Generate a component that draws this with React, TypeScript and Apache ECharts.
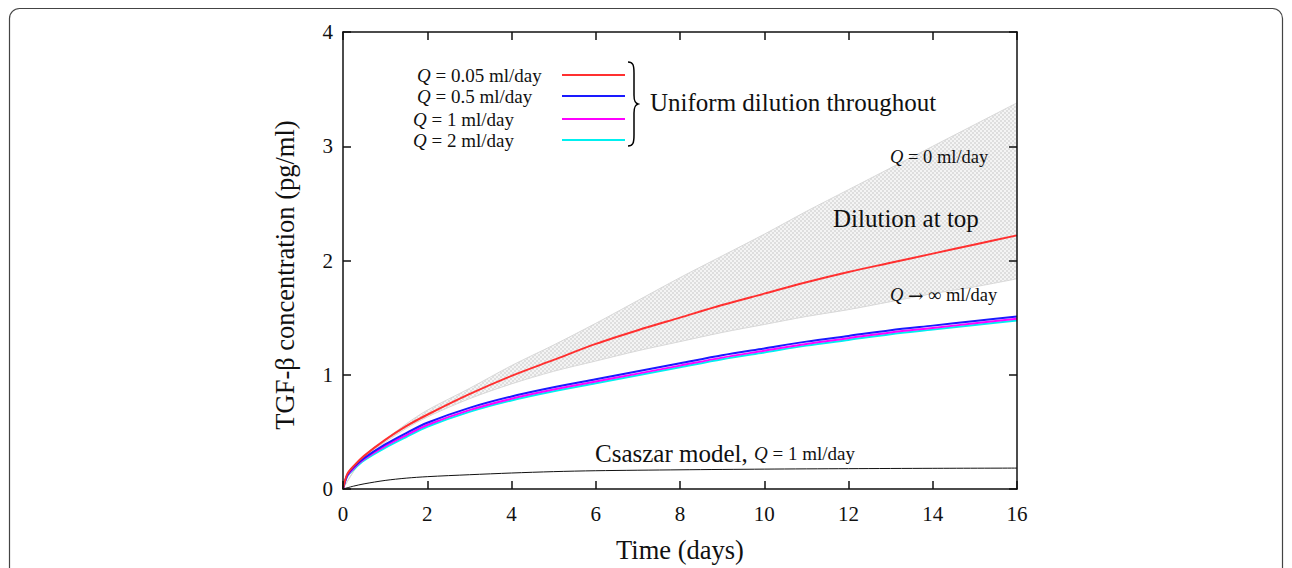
import React, { useEffect, useRef } from "react";
import * as echarts from "echarts";

// Time grid (days) for the uniform-dilution curves
const T = [0, 0.1, 0.25, 0.5, 1, 1.5, 2, 3, 4, 5, 6, 7, 8, 9, 10, 11, 12, 13, 14, 15, 16];
const q005 = [0, 0.13, 0.2, 0.29, 0.43, 0.55, 0.65, 0.83, 0.99, 1.13, 1.27, 1.39, 1.5, 1.61, 1.71, 1.81, 1.9, 1.98, 2.06, 2.14, 2.22];
const q05 = [0, 0.12, 0.19, 0.27, 0.39, 0.49, 0.58, 0.71, 0.81, 0.89, 0.96, 1.03, 1.1, 1.17, 1.23, 1.29, 1.34, 1.39, 1.43, 1.47, 1.51];
const q1 = [0, 0.115, 0.18, 0.26, 0.375, 0.47, 0.56, 0.69, 0.79, 0.87, 0.94, 1.01, 1.08, 1.15, 1.21, 1.27, 1.32, 1.37, 1.41, 1.45, 1.49];
const q2 = [0, 0.11, 0.17, 0.25, 0.36, 0.455, 0.545, 0.675, 0.775, 0.855, 0.925, 0.995, 1.065, 1.135, 1.195, 1.255, 1.305, 1.355, 1.395, 1.435, 1.475];

// Dilution at top band: Q = 0 (upper) and Q -> infinity (lower)
const TB = [0, 0.5, 1, 1.5, 2, 3, 4, 5, 6, 7, 8, 9, 10, 11, 12, 13, 14, 15, 16];
const bandUpper = [0, 0.29, 0.43, 0.57, 0.69, 0.88, 1.08, 1.26, 1.45, 1.65, 1.85, 2.04, 2.23, 2.43, 2.62, 2.81, 3.0, 3.19, 3.38];
const bandLower = [0, 0.28, 0.41, 0.53, 0.63, 0.79, 0.92, 1.03, 1.12, 1.21, 1.29, 1.37, 1.44, 1.51, 1.57, 1.64, 1.71, 1.77, 1.84];

// Csaszar model, Q = 1 ml/day
const TC = [0, 0.25, 0.5, 1, 1.5, 2, 3, 4, 5, 6, 8, 10, 12, 14, 16];
const csaszar = [0, 0.025, 0.045, 0.075, 0.095, 0.108, 0.125, 0.14, 0.152, 0.16, 0.168, 0.174, 0.178, 0.181, 0.183];

const xTicks = [0, 2, 4, 6, 8, 10, 12, 14, 16];
const yTicks = [0, 1, 2, 3, 4];

const legendLabels = ["0.05", "0.5", "1", "2"];
const legendColors = ["#ff3030", "#1a1aff", "#ff00ff", "#00f0f0"];

const SERIF = "Liberation Serif, Times New Roman, serif";

const zip = (xs: number[], ys: number[]) => xs.map((x, i) => [x, ys[i]]);

export default function App() {
  const ref = useRef<HTMLDivElement>(null);
  useEffect(() => {
    if (!ref.current) return;
    const chart = echarts.init(ref.current, undefined, { renderer: "svg" });

    // checkered texture for the band
    const cv = document.createElement("canvas");
    cv.width = 4;
    cv.height = 4;
    const ctx = cv.getContext("2d")!;
    ctx.fillStyle = "#f4f4f4";
    ctx.fillRect(0, 0, 4, 4);
    ctx.fillStyle = "#dedede";
    ctx.fillRect(0, 0, 2, 2);
    ctx.fillRect(2, 2, 2, 2);
    const patternSrc = cv.toDataURL();

    echarts.graphic.registerShape(
      "brace",
      echarts.graphic.extendPath(
        "M0,0 C5,0 6,3 6,11 L6,33 C6,39 7,41 10,42 C7,43 6,45 6,51 L6,73 C6,81 5,84 0,84",
        {}
      )
    );

    const legendYs = [75, 96, 119, 140];
    const legendXs = [417, 417, 413, 413];
    const graphics: any[] = [
      {
        type: "rect",
        shape: { x: 9.5, y: 8.5, width: 1273, height: 620, r: 10 },
        style: { fill: "none", stroke: "#444", lineWidth: 1.2 },
        silent: true,
        z: 100,
      },
      {
        type: "text",
        x: 285,
        y: 275,
        rotation: Math.PI / 2,
        z: 100,
        style: {
          text: "TGF-β concentration (pg/ml)",
          align: "center",
          verticalAlign: "middle",
          font: `26.5px ${SERIF}`,
          fill: "#111",
        },
      },
    ];
    legendLabels.forEach((l, i) => {
      graphics.push({
        type: "text",
        x: legendXs[i],
        y: legendYs[i],
        z: 100,
        style: {
          text: `{i|Q} = ${l} ml/day`,
          align: "left",
          verticalAlign: "middle",
          font: `19px ${SERIF}`,
          fill: "#111",
          rich: { i: { fontStyle: "italic", fontSize: 19, fontFamily: SERIF } },
        },
      });
      graphics.push({
        type: "line",
        z: 100,
        shape: { x1: 562, y1: legendYs[i], x2: 625, y2: legendYs[i] },
        style: { stroke: legendColors[i], lineWidth: 2 },
      });
    });
    graphics.push({
      type: "brace",
      x: 628,
      y: 62,
      z: 100,
      scaleX: 1,
      scaleY: 1,
      style: { fill: "none", stroke: "#000", lineWidth: 1.5 },
    });
    const ann = (text: string, x: number, y: number, size: number) => ({
      type: "text",
      x,
      y,
      z: 100,
      style: {
        text,
        verticalAlign: "middle",
        font: `${size}px ${SERIF}`,
        fill: "#111",
        rich: {
          i: { fontStyle: "italic", fontSize: size, fontFamily: SERIF },
          a: { fontSize: size, fontFamily: "DejaVu Serif, serif" },
          s: { fontSize: 19, fontFamily: SERIF },
          si: { fontStyle: "italic", fontSize: 19, fontFamily: SERIF },
        },
      },
    });
    graphics.push(ann("Uniform dilution throughout", 650, 102, 25));
    graphics.push(ann("{i|Q} = 0 ml/day", 890, 157, 18.5));
    graphics.push(ann("Dilution at top", 833, 218, 25));
    graphics.push(ann("{i|Q} {a|→} ∞ ml/day", 890, 295, 18.5));
    graphics.push(ann("Csaszar model, {si|Q}{s| = 1 ml/day}", 595, 453, 25));

    const lineSeries = (data: number[][], color: string, width: number, z = 3) => ({
      type: "line",
      data,
      showSymbol: false,
      smooth: 0.3,
      lineStyle: { color, width },
      z,
    });

    const axisCommon = {
      type: "value",
      z: 10,
      axisLine: { show: true, onZero: false, lineStyle: { color: "#111", width: 1.5 } },
      axisTick: { show: true, inside: true, length: 8, lineStyle: { color: "#111", width: 1.5 } },
      splitLine: { show: false },
    };

    chart.setOption({
      animation: false,
      backgroundColor: "#fff",
      grid: { left: 343, right: 275, top: 32, bottom: 77 },
      xAxis: [
        {
          ...axisCommon,
          position: "bottom",
          min: 0,
          max: 16,
          interval: 2,
          name: "Time (days)",
          nameLocation: "middle",
          nameGap: 47,
          nameTextStyle: { fontFamily: SERIF, fontSize: 26.5, color: "#111" },
          axisLabel: { fontFamily: SERIF, fontSize: 21, color: "#111", margin: 14,
            formatter: (v: number) => (xTicks.includes(v) ? String(v) : "") },
        },
        { ...axisCommon, position: "top", min: 0, max: 16, interval: 2, axisLabel: { show: false } },
      ],
      yAxis: [
        {
          ...axisCommon,
          position: "left",
          min: 0,
          max: 4,
          interval: 1,
          axisLabel: { fontFamily: SERIF, fontSize: 21, color: "#111", margin: 10,
            formatter: (v: number) => (yTicks.includes(v) ? String(v) : "") },
        },
        { ...axisCommon, position: "right", min: 0, max: 4, interval: 1, axisLabel: { show: false } },
      ],
      graphic: graphics,
      series: [
        {
          type: "line",
          name: "Q = 0",
          data: zip(TB, bandUpper),
          showSymbol: false,
          smooth: 0.3,
          lineStyle: { color: "#d8d8d8", width: 1 },
          areaStyle: { color: { image: patternSrc, repeat: "repeat" }, opacity: 1 },
          z: 1,
        },
        {
          type: "line",
          name: "Q -> inf",
          data: zip(TB, bandLower),
          showSymbol: false,
          smooth: 0.3,
          lineStyle: { color: "#d8d8d8", width: 1 },
          areaStyle: { color: "#ffffff", opacity: 1 },
          z: 1,
        },
        lineSeries(zip(TC, csaszar), "#111", 1),
        lineSeries(zip(T, q2), legendColors[3], 2),
        lineSeries(zip(T, q1), legendColors[2], 2),
        lineSeries(zip(T, q05), legendColors[1], 2),
        lineSeries(zip(T, q005), legendColors[0], 2),
      ],
    });
    return () => chart.dispose();
  }, []);
  return (
    <div
      ref={ref}
      style={{ position: "fixed", left: 0, top: 0, width: 1292, height: 568, background: "#fff" }}
    />
  );
}
